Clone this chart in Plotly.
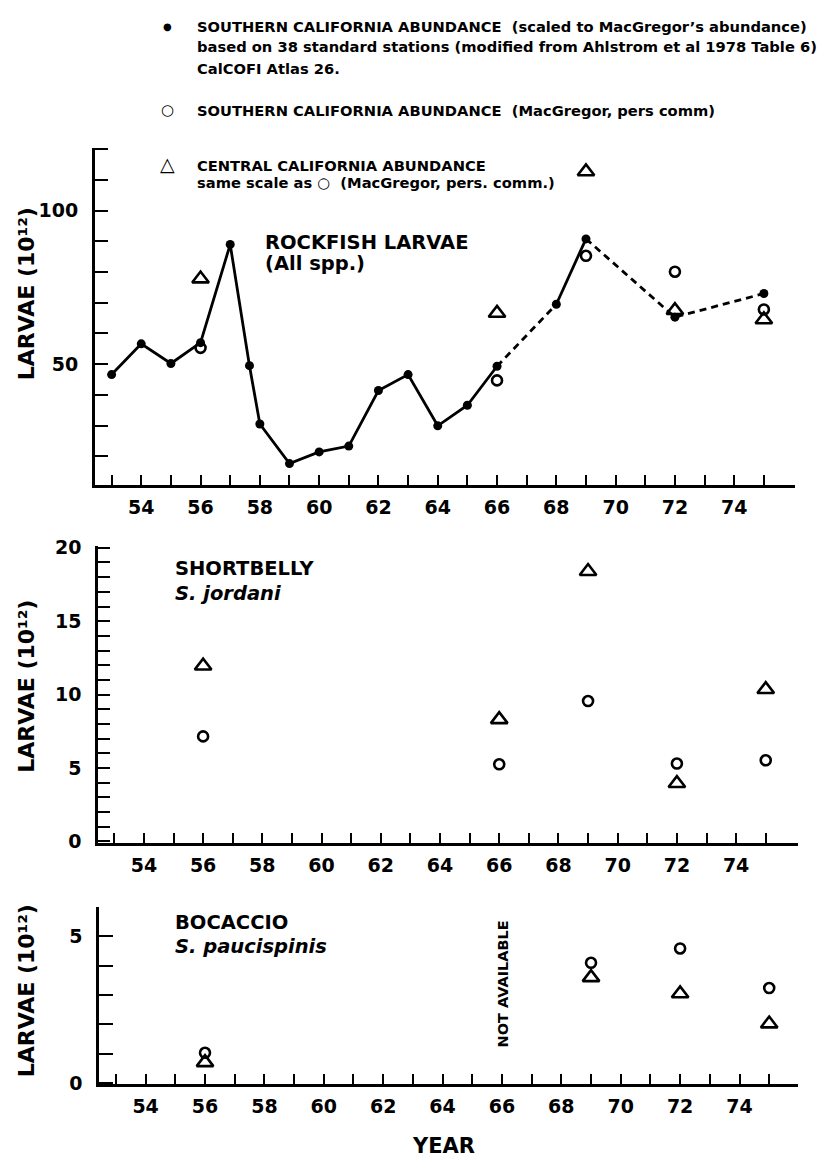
import plotly.graph_objects as go

W, H = 839, 1171
FONT = "DejaVu Sans"

# ---------------- data ----------------
x_major = list(range(54, 75, 2))
x_tick_labels = [str(v) for v in x_major]
x_minor = list(range(53, 76, 2))

# Rockfish larvae (all spp.) -- filled dots, scaled southern California abundance
rock_years = [53, 54, 55, 56, 57, 57.65, 58, 59, 60, 61, 62, 63, 64, 65, 66, 68, 69, 72, 75]
rock_vals = [46.6, 56.6, 50.2, 57.0, 89.0, 49.5, 30.5, 17.6, 21.4, 23.3, 41.4, 46.6, 29.9, 36.6,
             49.3, 69.5, 90.8, 65.3, 73.0]
# line segments (start index, end index, dash style)
rock_segments = [(0, 14, "solid"), (14, 15, "dash"), (15, 16, "solid"), (16, 18, "dash")]

rock_circ_years = [56, 66, 69, 72, 75]
rock_circ_vals = [55.3, 44.7, 85.3, 80.1, 67.8]
rock_tri_years = [56, 66, 69, 72, 75]
rock_tri_vals = [77.8, 66.6, 112.7, 67.5, 64.5]

# Shortbelly (S. jordani)
sb_circ_years = [56, 66, 69, 72, 75]
sb_circ_vals = [7.15, 5.25, 9.56, 5.3, 5.52]
sb_tri_years = [56, 66, 69, 72, 75]
sb_tri_vals = [11.95, 8.3, 18.4, 3.95, 10.35]

# Bocaccio (S. paucispinis)
bo_circ_years = [56, 69, 72, 75]
bo_circ_vals = [1.03, 4.1, 4.59, 3.24]
bo_tri_years = [56, 69, 72, 75]
bo_tri_vals = [0.7, 3.6, 3.05, 2.02]

top_y_major = [50, 100]
top_y_labels = ["50", "100"]
top_y_minor = [20, 30, 40, 60, 70, 80, 90, 110, 120]
mid_y_major = [0, 5, 10, 15, 20]
mid_y_labels = ["0", "5", "10", "15", "20"]
mid_y_minor = [v for v in range(1, 20) if v % 5 != 0]
bot_y_major = [0, 5]
bot_y_labels = ["0", "5"]
bot_y_minor = [1, 2, 3, 4]

# ---------------- figure ----------------
fig = go.Figure()

def circles(x, y, xa, ya):
    fig.add_trace(go.Scatter(x=x, y=y, mode="markers", xaxis=xa, yaxis=ya, showlegend=False,
                             marker=dict(symbol="circle-open", size=10, color="black",
                                         line=dict(width=2.6, color="black"))))

def triangles(x, y, xa, ya):
    fig.add_trace(go.Scatter(x=x, y=y, mode="markers", xaxis=xa, yaxis=ya, showlegend=False,
                             marker=dict(symbol="triangle-up-open", size=14.5, color="black",
                                         line=dict(width=2.6, color="black"))))

# top panel line segments
for a, b, dash in rock_segments:
    fig.add_trace(go.Scatter(x=rock_years[a:b + 1], y=rock_vals[a:b + 1], mode="lines",
                             xaxis="x", yaxis="y", showlegend=False,
                             line=dict(color="black", width=2.8,
                                       dash="solid" if dash == "solid" else "7px,5px")))
fig.add_trace(go.Scatter(x=rock_years, y=rock_vals, mode="markers", xaxis="x", yaxis="y",
                         showlegend=False, marker=dict(symbol="circle", size=9, color="black")))
circles(rock_circ_years, rock_circ_vals, "x", "y")
triangles(rock_tri_years, rock_tri_vals, "x", "y")

circles(sb_circ_years, sb_circ_vals, "x2", "y2")
triangles(sb_tri_years, sb_tri_vals, "x2", "y2")

circles(bo_circ_years, bo_circ_vals, "x3", "y3")
triangles(bo_tri_years, bo_tri_vals, "x3", "y3")

tickfont = dict(family=FONT, size=19, color="black", weight="bold")

def xaxis(domain, rng, anchor):
    return dict(domain=domain, range=rng, anchor=anchor, tickmode="array",
                tickvals=x_major, ticktext=x_tick_labels, ticks="inside", ticklen=10,
                tickwidth=2, tickcolor="black",
                minor=dict(tickmode="array", tickvals=x_minor, ticks="inside", ticklen=10,
                           tickwidth=2, tickcolor="black", showgrid=False),
                showline=True, linewidth=3, linecolor="black",
                showgrid=False, zeroline=False, tickfont=tickfont, ticklabelstandoff=3,
                fixedrange=True)

def yaxis(domain, rng, anchor, tv, tt, mv, tl):
    return dict(domain=domain, range=rng, anchor=anchor, tickmode="array",
                tickvals=tv, ticktext=tt, ticks="inside", ticklen=tl,
                tickwidth=2, tickcolor="black",
                minor=dict(tickmode="array", tickvals=mv, ticks="inside", ticklen=tl,
                           tickwidth=2, tickcolor="black", showgrid=False),
                showline=True, linewidth=3, linecolor="black",
                showgrid=False, zeroline=False, tickfont=tickfont, ticklabelstandoff=10,
                fixedrange=True)

fig.update_layout(
    width=W, height=H, margin=dict(l=0, r=0, t=0, b=0),
    paper_bgcolor="white", plot_bgcolor="white", showlegend=False,
    xaxis=xaxis([95 / W, 795 / W], [52.44, 76.05], "y"),
    yaxis=yaxis([1 - 483.2 / H, 1 - 140 / H], [10.5, 120.5], "x",
                top_y_major, top_y_labels, top_y_minor, 13),
    xaxis2=xaxis([98.3 / W, 798.3 / W], [52.46, 76.1], "y2"),
    yaxis2=yaxis([1 - 846.8 / H, 1 - 545.2 / H], [-0.12, 20.1], "x2",
                 mid_y_major, mid_y_labels, mid_y_minor, 12),
    xaxis3=xaxis([99.3 / W, 798.3 / W], [52.44, 75.98], "y3"),
    yaxis3=yaxis([1 - 1092.2 / H, 1 - 911.9 / H], [-0.05, 6.0], "x3",
                 bot_y_major, bot_y_labels, bot_y_minor, 14),
)

def ann(text, px, py, size, xanchor="left", angle=0, style="normal"):
    fig.add_annotation(text=text, x=px / W, y=1 - py / H, xref="paper", yref="paper",
                       xanchor=xanchor, yanchor="middle", showarrow=False, textangle=angle,
                       font=dict(family=FONT, size=size, color="black", weight="bold", style=style))

# key text at top
ann("●", 167, 16.7, 10, "center")
ann("SOUTHERN CALIFORNIA ABUNDANCE  (scaled to MacGregor’s abundance)", 195, 16.7, 14.7)
ann("based on 38 standard stations (modified from Ahlstrom et al 1978 Table 6)", 195, 37.5, 14.7)
ann("CalCOFI Atlas 26.", 195, 59.5, 14.7)
ann("○", 167, 101.7, 15, "center")
ann("SOUTHERN CALIFORNIA ABUNDANCE  (MacGregor, pers comm)", 195, 101.7, 14.7)
ann("△", 167, 156.5, 19, "center")
ann("CENTRAL CALIFORNIA ABUNDANCE", 195, 158, 14.7)
ann("same scale as ○  (MacGregor, pers. comm.)", 195, 175.5, 14.7)

# panel titles
ann("ROCKFISH LARVAE", 263, 236, 19.5)
ann("(All spp.)", 263, 258, 19.5)
ann("SHORTBELLY", 173, 568, 19.5)
ann("S. jordani", 173, 593, 19.5, style="italic")
ann("BOCACCIO", 173, 928, 19.5)
ann("S. paucispinis", 173, 952, 19.5, style="italic")
ann("NOT AVAILABLE", 502.5, 990, 14.5, "center", angle=-90)

# axis titles
ann("LARVAE (10¹²)", 26, 289, 22, "center", angle=-90)
ann("LARVAE (10¹²)", 26.5, 687.5, 22, "center", angle=-90)
ann("LARVAE (10¹²)", 26.5, 997, 22, "center", angle=-90)
ann("YEAR", 443.5, 1155, 21, "center")

fig.write_html("out.html")
